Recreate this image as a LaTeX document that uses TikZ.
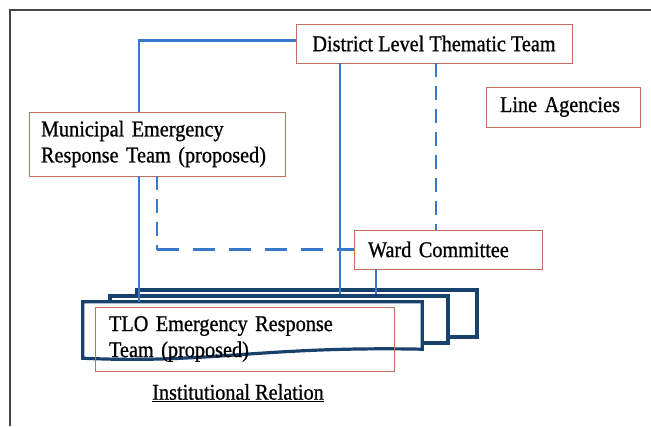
\documentclass[tikz,border=0pt]{standalone}
\usepackage{fontspec}
\setmainfont{Liberation Serif}[FakeStretch=0.9,FakeBold=0.8]
\usetikzlibrary{calc}

\definecolor{boxred}{RGB}{196,110,95}
\definecolor{linkblue}{RGB}{55,120,200}
\definecolor{docblue}{RGB}{25,65,110}
\definecolor{framegray}{RGB}{70,70,70}

\begin{document}
\begin{tikzpicture}[x=1pt,y=-1pt,font=\fontsize{22.5}{26}\selectfont,
  box/.style={draw=boxred,line width=0.9pt,fill=white,inner sep=0pt},
  link/.style={draw=linkblue,line width=2.4pt},
  dashlink/.style={link,dash pattern=on 14pt off 9pt},
  docbox/.style={draw=docblue,line width=3.2pt,fill=white,inner sep=0pt}]
\useasboundingbox (0,0) rectangle (651,426);
\draw[framegray,line width=1.5pt] (651,10) -- (10,10) -- (10,426);
% stacked TLO documents
\node[docbox,minimum width=340pt,minimum height=47pt] (back) at (307,313.5) {};
\node[docbox,minimum width=338pt,minimum height=47pt] (middle) at (279,319.5) {};
\node[minimum width=339pt,minimum height=56pt,inner sep=0pt] (front) at (252.5,330) {};
\draw[docbox] (front.south west) -- (front.north west) -- (front.north east) -- ([yshift=9pt]front.south east)
  .. controls (260,346) and (210,364) .. (front.south west) -- cycle;
\node[box,fill=none,text width=271pt,inner xsep=14pt,minimum height=64pt,align=left] (tlo) at (244.5,339) {TLO Emergency Response\\Team (proposed)};
% boxes
\node[box,minimum width=276pt,minimum height=39pt] (district) at (434,43.5) {District Level Thematic Team};
\node[box,text width=126pt,inner xsep=14pt,minimum height=40pt,align=left] (agencies) at (563,107) {Line Agencies};
\node[box,text width=232pt,inner xsep=12pt,minimum height=64pt,align=left] (muni) at (157,144) {Municipal Emergency\\Response Team (proposed)};
\node[box,text width=160pt,inner xsep=14pt,minimum height=39pt,align=left] (ward) at (448,249.5) {Ward Committee};
\node (caption) at (238,393) {\underline{Institutional Relation}};
% links
\coordinate (mleft) at ([xshift=-18pt]muni.south);
\coordinate (dtop) at ([xshift=-94pt]district.south);
\coordinate (ddash) at ([xshift=2pt]district.south);
\coordinate (wdown) at ([xshift=-72pt]ward.south);
\draw[link] ([yshift=3pt]district.west) -| (mleft |- muni.north);
\draw[link] (mleft) -- (mleft |- front.north);
\draw[link] (dtop) -- (dtop |- middle.north);
\draw[link] (wdown) -- (wdown |- middle.north);
\draw[dashlink] (ddash) -- (ddash |- ward.north);
\draw[dashlink] (muni.south) -- (muni.south |- ward.west);
\draw[dashlink,line width=3.5pt,dash pattern=on 22pt off 14pt] (muni.south |- ward.west) -- (ward.west);
\end{tikzpicture}
\end{document}
